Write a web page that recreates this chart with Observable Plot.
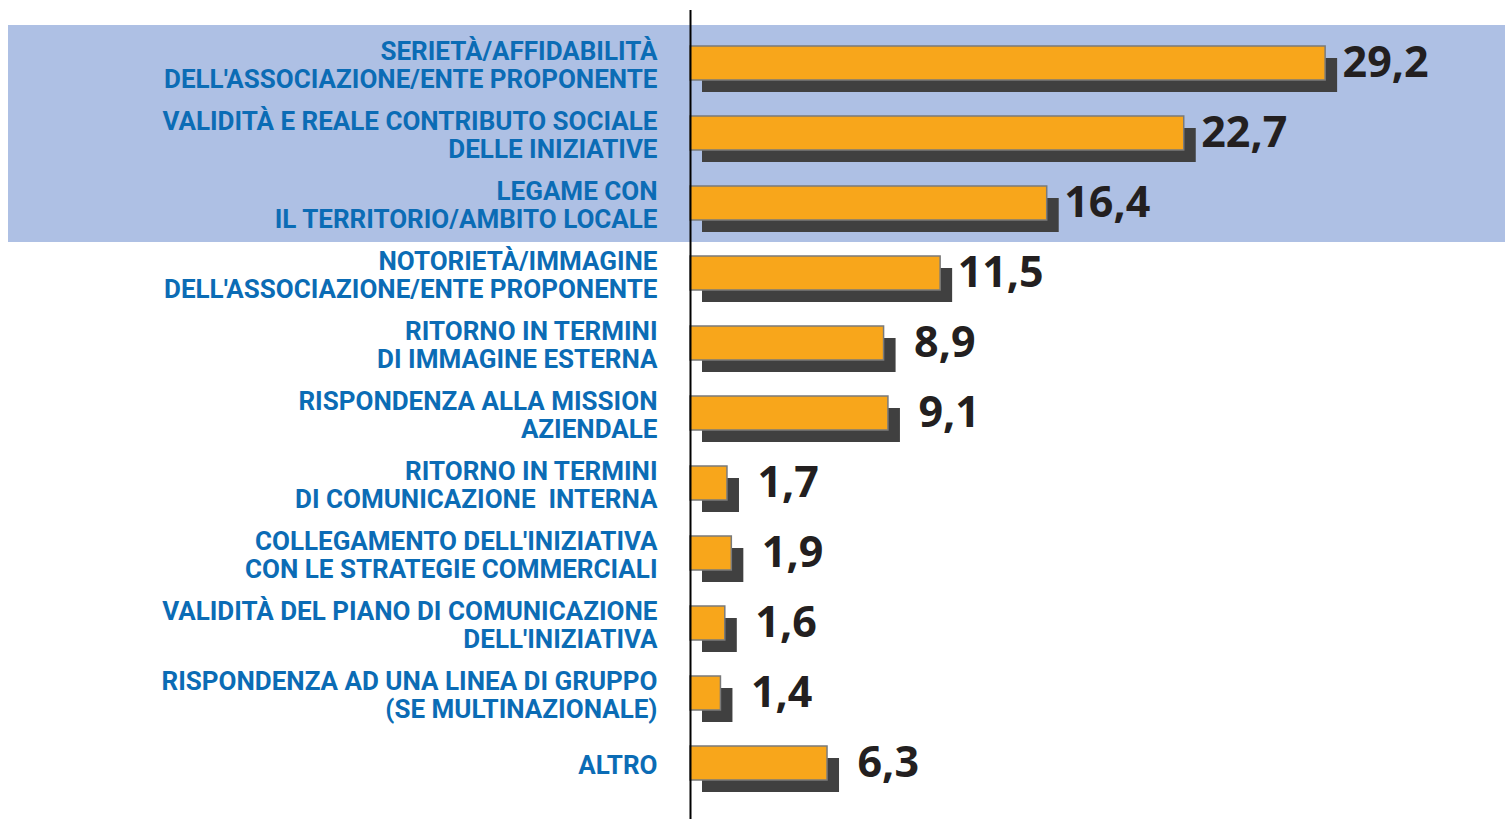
<!DOCTYPE html>
<html>
<head>
<meta charset="utf-8">
<script src="https://cdn.jsdelivr.net/npm/d3@7"></script>
<script src="https://cdn.jsdelivr.net/npm/@observablehq/plot@0.6"></script>
<style>
  html, body { margin: 0; padding: 0; background: #ffffff; }
  #chart svg { display: block; }
</style>
</head>
<body>
<div id="chart"></div>
<script>
const categories = [
  "SERIETÀ/AFFIDABILITÀ\nDELL'ASSOCIAZIONE/ENTE PROPONENTE",
  "VALIDITÀ E REALE CONTRIBUTO SOCIALE\nDELLE INIZIATIVE",
  "LEGAME CON\nIL TERRITORIO/AMBITO LOCALE",
  "NOTORIETÀ/IMMAGINE\nDELL'ASSOCIAZIONE/ENTE PROPONENTE",
  "RITORNO IN TERMINI\nDI IMMAGINE ESTERNA",
  "RISPONDENZA ALLA MISSION\nAZIENDALE",
  "RITORNO IN TERMINI\nDI COMUNICAZIONE  INTERNA",
  "COLLEGAMENTO DELL'INIZIATIVA\nCON LE STRATEGIE COMMERCIALI",
  "VALIDITÀ DEL PIANO DI COMUNICAZIONE\nDELL'INIZIATIVA",
  "RISPONDENZA AD UNA LINEA DI GRUPPO\n(SE MULTINAZIONALE)",
  "ALTRO"
];
const values = [29.2, 22.7, 16.4, 11.5, 8.9, 9.1, 1.7, 1.9, 1.6, 1.4, 6.3];
const highlighted = categories.slice(0, 3);

const data = categories.map((c, i) => ({category: c, value: values[i]}));
const fmt = v => v.toFixed(1).replace(".", ",");

const highlightMark = (index, scales, vals, dims) => {
  const y = scales.y;
  const bw = y(categories[1]) - y(categories[0]);
  const top = y(highlighted[0]) - 3;
  const bottom = y(highlighted[highlighted.length - 1]) + bw + 4;
  const r = document.createElementNS("http://www.w3.org/2000/svg", "rect");
  r.setAttribute("x", 8);
  r.setAttribute("y", top);
  r.setAttribute("width", dims.width - 8);
  r.setAttribute("height", bottom - top);
  r.setAttribute("fill", "#aec0e4");
  return r;
};

const chart = Plot.plot({
  width: 1505,
  height: 819,
  marginLeft: 690,
  marginRight: 0,
  marginTop: 28,
  marginBottom: 21,
  style: {background: "#ffffff", overflow: "visible"},
  x: {domain: [0, 37.47], axis: null},
  y: {domain: categories, padding: 0, axis: null},
  marks: [
    highlightMark,
    Plot.barX(data, {x: "value", y: "category", fill: "#404040", dx: 12, dy: 12, insetTop: 18, insetBottom: 18}),
    Plot.barX(data, {x: "value", y: "category", fill: "#f8a61b", stroke: "#7a7a7a", strokeWidth: 1.5, insetTop: 18, insetBottom: 18}),
    Plot.ruleX([0], {stroke: "#000000", strokeWidth: 2, insetTop: -18, insetBottom: -21}),
    Plot.text(data, {
      x: 0, y: "category", text: "category",
      textAnchor: "end", dx: -33, dy: 2, lineHeight: 1.077,
      fill: "#0b6cb5", fontSize: 26, fontWeight: 700,
      fontFamily: "Roboto"
    }),
    Plot.text(data.filter(d => d.value >= 10), {
      x: "value", y: "category", text: d => fmt(d.value),
      textAnchor: "start", dx: 17, dy: 0,
      fill: "#231f20", fontSize: 43, fontWeight: 700,
      fontFamily: "Open Sans"
    }),
    Plot.text(data.filter(d => d.value < 10), {
      x: "value", y: "category", text: d => fmt(d.value),
      textAnchor: "start", dx: 30, dy: 0,
      fill: "#231f20", fontSize: 43, fontWeight: 700,
      fontFamily: "Open Sans"
    })
  ]
});

document.getElementById("chart").appendChild(chart);
</script>
</body>
</html>
